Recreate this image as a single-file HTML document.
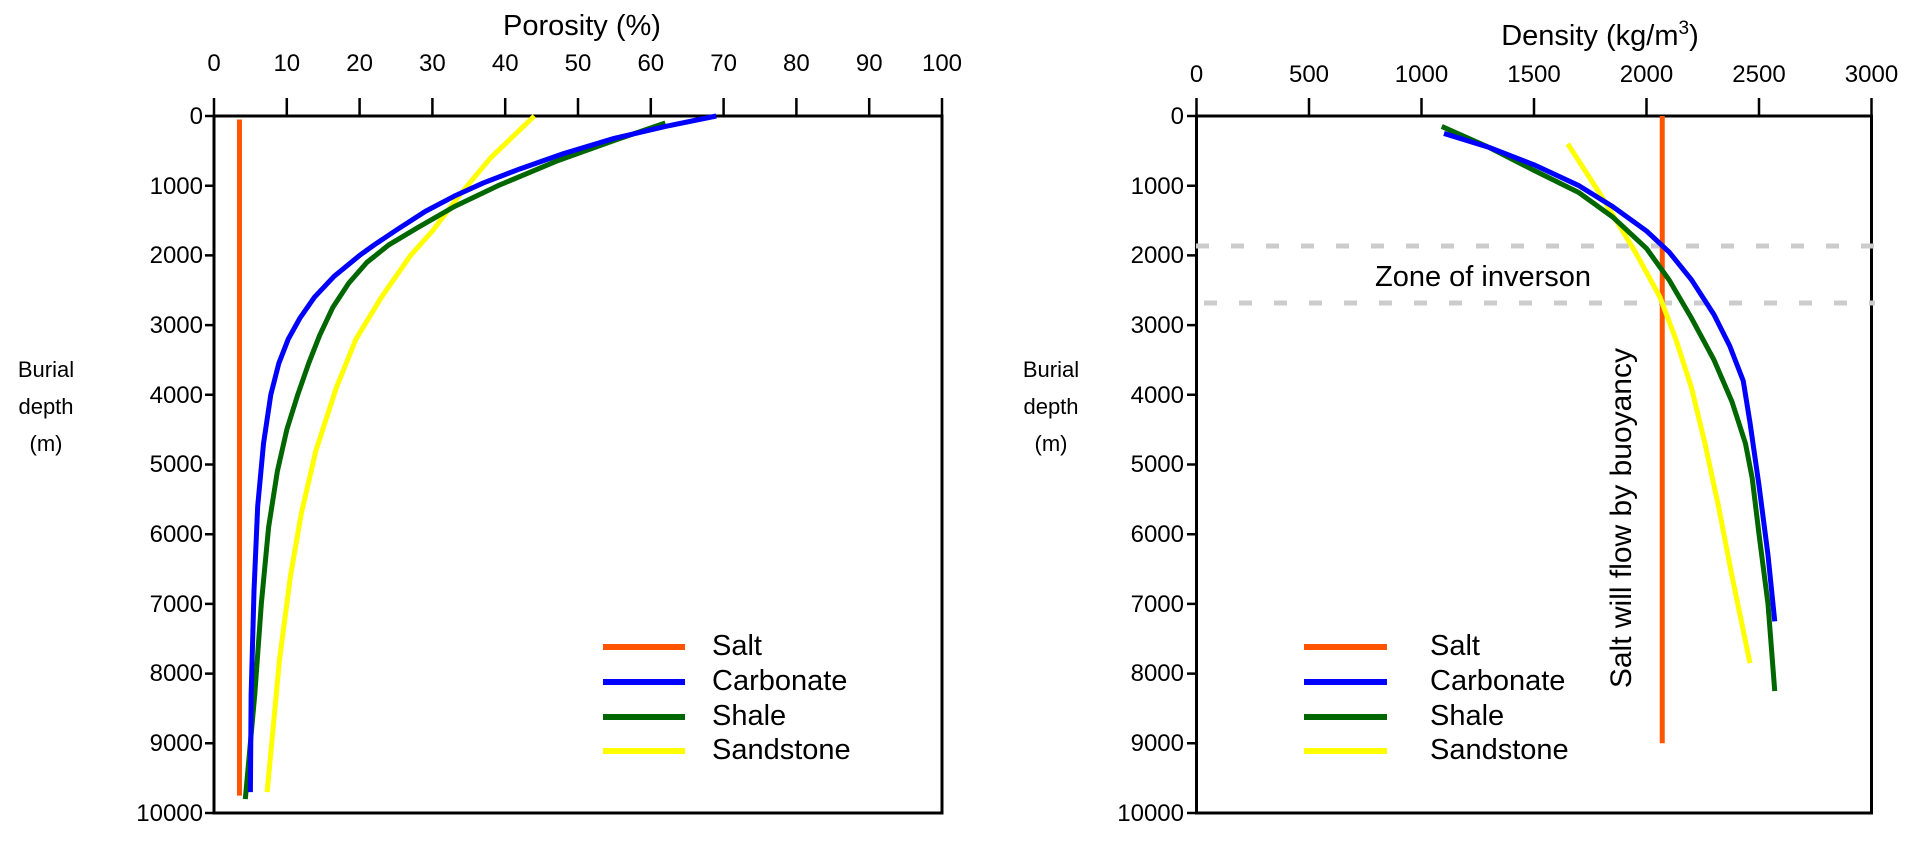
<!DOCTYPE html>
<html><head><meta charset="utf-8"><style>
html,body{margin:0;padding:0;background:#fff;}
svg{display:block;font-family:"Liberation Sans",Arial,sans-serif;}
.c{fill:none;stroke-width:5;vector-effect:non-scaling-stroke;stroke-linejoin:round}
</style></head><body>
<svg width="1925" height="844" viewBox="0 0 1925 844" xmlns="http://www.w3.org/2000/svg">
<!-- LEFT PLOT -->
<g stroke="#000" stroke-width="3" fill="none">
<rect x="214" y="116" width="728" height="697"/>
<g stroke-width="2.5">
<path d="M214 116v-18M286.8 116v-18M359.6 116v-18M432.4 116v-18M505.2 116v-18M578 116v-18M650.8 116v-18M723.6 116v-18M796.4 116v-18M869.2 116v-18M942 116v-18"/>
<path d="M205 116h9M205 185.7h9M205 255.4h9M205 325.1h9M205 394.8h9M205 464.5h9M205 534.2h9M205 603.9h9M205 673.6h9M205 743.3h9M205 813h9"/>
</g></g>
<g font-size="24" text-anchor="middle">
<text x="214" y="71">0</text><text x="286.8" y="71">10</text><text x="359.6" y="71">20</text><text x="432.4" y="71">30</text><text x="505.2" y="71">40</text><text x="578" y="71">50</text><text x="650.8" y="71">60</text><text x="723.6" y="71">70</text><text x="796.4" y="71">80</text><text x="869.2" y="71">90</text><text x="942" y="71">100</text>
</g>
<text x="582" y="35" font-size="29" text-anchor="middle">Porosity (%)</text>
<g font-size="24" text-anchor="end">
<text x="203" y="124">0</text><text x="203" y="194">1000</text><text x="203" y="263">2000</text><text x="203" y="333">3000</text><text x="203" y="403">4000</text><text x="203" y="472">5000</text><text x="203" y="542">6000</text><text x="203" y="612">7000</text><text x="203" y="681">8000</text><text x="203" y="751">9000</text><text x="203" y="821">10000</text>
</g>
<g font-size="22" text-anchor="middle"><text x="46" y="377">Burial</text><text x="46" y="414">depth</text><text x="46" y="451">(m)</text></g>
<g transform="translate(214,116) scale(7.28,0.0697)">
<path class="c" stroke="#ff5500" d="M3.5 50V9750"/>
<path class="c" stroke="#ffff00" d="M44 0L38 600L34 1100L30 1650L27 2000L23 2600L19.5 3200L16.8 3900L14 4800L12 5700L10.5 6600L9 7800L7.3 9700"/>
<path class="c" stroke="#006600" d="M62 100L55 350L47 650L39 1000L33 1300L28 1600L24 1850L21 2100L18.5 2400L16.3 2750L14.5 3150L13 3550L11.5 4000L10 4500L8.7 5100L7.5 5900L6.5 7000L5.6 8300L4.3 9800"/>
<path class="c" stroke="#0000ff" d="M69 0L62 150L55 320L48 540L42 760L37 960L33 1150L29 1370L25 1640L22 1850L20 2000L16.5 2300L13.8 2600L11.8 2900L10.2 3200L8.9 3550L7.8 4000L6.8 4700L6 5600L5.5 6800L5.1 8300L5 9700"/>
</g>
<g stroke-width="6">
<line x1="603" y1="647" x2="685" y2="647" stroke="#ff5500"/>
<line x1="603" y1="682" x2="685" y2="682" stroke="#0000ff"/>
<line x1="603" y1="717" x2="685" y2="717" stroke="#006600"/>
<line x1="603" y1="751" x2="685" y2="751" stroke="#ffff00"/>
</g>
<g font-size="29"><text x="712" y="655">Salt</text><text x="712" y="690">Carbonate</text><text x="712" y="725">Shale</text><text x="712" y="759">Sandstone</text></g>

<!-- RIGHT PLOT -->
<g stroke="#000" stroke-width="3" fill="none">
<rect x="1196.5" y="116" width="675" height="697"/>
<g stroke-width="2.5">
<path d="M1196.5 116v-18M1309 116v-18M1421.5 116v-18M1534 116v-18M1646.5 116v-18M1759 116v-18M1871.5 116v-18"/>
<path d="M1187 116h9M1187 185.7h9M1187 255.4h9M1187 325.1h9M1187 394.8h9M1187 464.5h9M1187 534.2h9M1187 603.9h9M1187 673.6h9M1187 743.3h9M1187 813h9"/>
</g></g>
<g font-size="24" text-anchor="middle">
<text x="1196.5" y="82">0</text><text x="1309" y="82">500</text><text x="1421.5" y="82">1000</text><text x="1534" y="82">1500</text><text x="1646.5" y="82">2000</text><text x="1759" y="82">2500</text><text x="1871.5" y="82">3000</text>
</g>
<text x="1600" y="45" font-size="29" text-anchor="middle">Density (kg/m<tspan font-size="19" dy="-11">3</tspan><tspan dy="11">)</tspan></text>
<g font-size="24" text-anchor="end">
<text x="1184" y="124">0</text><text x="1184" y="194">1000</text><text x="1184" y="263">2000</text><text x="1184" y="333">3000</text><text x="1184" y="403">4000</text><text x="1184" y="472">5000</text><text x="1184" y="542">6000</text><text x="1184" y="612">7000</text><text x="1184" y="681">8000</text><text x="1184" y="751">9000</text><text x="1184" y="821">10000</text>
</g>
<g font-size="22" text-anchor="middle"><text x="1051" y="377">Burial</text><text x="1051" y="414">depth</text><text x="1051" y="451">(m)</text></g>
<g stroke="#cccccc" stroke-width="5" stroke-dasharray="13,22">
<line x1="1196" y1="246" x2="1875" y2="246"/>
<line x1="1204" y1="303" x2="1875" y2="303"/>
</g>
<text x="1591" y="286" font-size="29" text-anchor="end">Zone of inverson</text>
<text transform="translate(1631,348) rotate(-90)" font-size="30" text-anchor="end">Salt will flow by buoyancy</text>
<g transform="translate(1196.5,116) scale(0.225,0.0697)">
<path class="c" stroke="#ff5500" d="M2070 0V9000"/>
<path class="c" stroke="#ffff00" d="M1650 400L1800 1150L1950 1950L2060 2600L2130 3200L2200 3900L2260 4700L2320 5600L2380 6600L2460 7850"/>
<path class="c" stroke="#006600" d="M1090 150L1300 450L1500 780L1700 1100L1850 1450L2000 1900L2100 2350L2200 2900L2300 3500L2380 4100L2440 4700L2470 5200L2500 6000L2540 7000L2570 8250"/>
<path class="c" stroke="#0000ff" d="M1100 250L1300 450L1500 700L1700 1000L1850 1300L2000 1650L2100 1950L2200 2350L2300 2850L2370 3300L2430 3800L2460 4400L2500 5300L2540 6300L2570 7250"/>
</g>
<g stroke-width="6">
<line x1="1304" y1="647" x2="1387" y2="647" stroke="#ff5500"/>
<line x1="1304" y1="682" x2="1387" y2="682" stroke="#0000ff"/>
<line x1="1304" y1="717" x2="1387" y2="717" stroke="#006600"/>
<line x1="1304" y1="751" x2="1387" y2="751" stroke="#ffff00"/>
</g>
<g font-size="29"><text x="1430" y="655">Salt</text><text x="1430" y="690">Carbonate</text><text x="1430" y="725">Shale</text><text x="1430" y="759">Sandstone</text></g>
</svg>
</body></html>
